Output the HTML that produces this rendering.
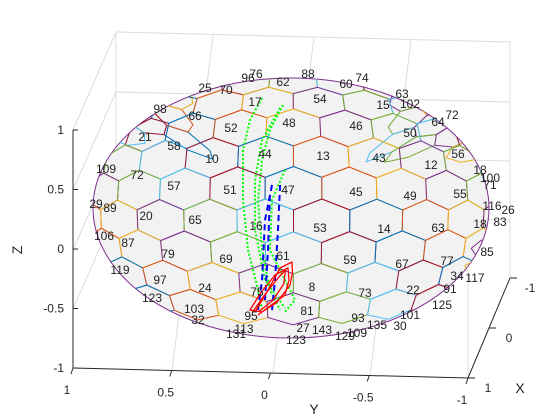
<!DOCTYPE html>
<html><head><meta charset="utf-8"><style>
html,body{margin:0;padding:0;background:#fff;}
svg{display:block;font-family:"Liberation Sans",sans-serif;}
</style></head><body>
<svg id="chart" width="560" height="420" viewBox="0 0 560 420" xmlns="http://www.w3.org/2000/svg">
<defs><clipPath id="sph"><ellipse cx="291" cy="208" rx="198" ry="130"/></clipPath></defs>
<g id="box" stroke="#dcdcdc" stroke-width="1" fill="none">
<polyline points="73,130 116,32 510,42 510,278"/>
<line x1="116" y1="32" x2="116" y2="270"/>
<line x1="468" y1="270" x2="468" y2="378"/>
<line x1="73" y1="190" x2="116" y2="92"/>
<line x1="73" y1="250" x2="116" y2="152"/>
<line x1="73" y1="309" x2="116" y2="211"/>
<line x1="172" y1="371" x2="213" y2="35"/>
<line x1="273" y1="373" x2="314" y2="37"/>
<line x1="370" y1="376" x2="411" y2="40"/>
<line x1="116" y1="92" x2="510" y2="102"/>
<line x1="116" y1="152" x2="510" y2="161"/>
<line x1="116" y1="211" x2="510" y2="220"/>
<line x1="116" y1="270" x2="468" y2="270"/>
</g>
<g id="grid"></g>
<g id="traj"></g>
<g id="labels" font-size="12" fill="#222"></g>
<g id="axes" stroke="#262626" fill="none" stroke-width="1">
<line x1="73" y1="130" x2="73" y2="368"/>
<line x1="73" y1="368" x2="468" y2="378"/>
<line x1="468" y1="378" x2="510" y2="278"/>
</g>
<g id="ticks" font-size="12" fill="#262626"></g>
<text x="22" y="250" font-size="14" fill="#262626" transform="rotate(-90 22 250)" text-anchor="middle">Z</text>
<text x="314" y="414" font-size="14" fill="#262626" text-anchor="middle">Y</text>
<text x="520" y="393" font-size="14" fill="#262626" text-anchor="middle">X</text>
</svg>
<script>
const zTicks=[1,0.5,0,-0.5,-1];
const zTickLabels=["1","0.5","0","-0.5","-1"];
const yTicks=[1,0.5,0,-0.5,-1];
const yTickLabels=["1","0.5","0","-0.5","-1"];
const xTicks=[-1,0,1];
const xTickLabels=["-1","0","1"];
const green1=[[0.034,0.936],[0.103,0.76],[0.143,0.52],[0.143,0.12],[0.114,-0.28],[0.057,-0.6],[0.034,-0.76]];
const green2=[[-0.086,0.88],[-0.011,0.68],[0.034,0.44],[0.057,0.12],[0.034,-0.28],[-0.011,-0.6],[-0.069,-0.76]];
const green3=[[-0.069,0.856],[0.034,0.6],[0.074,0.28],[0.074,-0.12],[0.017,-0.52],[-0.097,-0.744]];
const green4=[[-0.097,0.36],[-0.023,0.12],[-0.011,-0.28],[-0.126,-0.6],[-0.154,-0.68],[-0.097,-0.776]];
const blue1=[[-0.023,0.24],[0.017,-0.04],[0.034,-0.52],[0.057,-0.76]];
const blue2=[[-0.069,0.24],[-0.057,-0.12],[-0.04,-0.52],[-0.023,-0.76]];
const blue3=[[-0.011,0.16],[0,-0.28],[0.017,-0.68]];
const red1=[[0.074,-0.776],[0.0,-0.6],[-0.069,-0.424],[-0.137,-0.376],[-0.14,-0.46],[-0.126,-0.56],[-0.05,-0.7],[0.034,-0.776],[0.103,-0.76],[0.04,-0.62],[-0.04,-0.48],[-0.114,-0.424],[-0.12,-0.52],[-0.097,-0.64],[0.0,-0.74],[0.057,-0.8]];
const red2=[[0.09,-0.78],[0.02,-0.64],[-0.06,-0.5],[-0.1,-0.44],[-0.09,-0.55],[-0.03,-0.68],[0.05,-0.77]];
const cellLabels=[["76",256,74],["96",248,78],["62",283,82],["88",308,74],["60",346,84],["74",362,78],["63",402,94],["102",410,104],["25",205,88],["70",226,90],["17",255,102],["54",320,99],["15",383,105],["98",160,109],["66",195,116],["52",231,128],["48",289,123],["46",356,126],["50",410,133],["64",438,122],["72",452,115],["21",145,137],["58",174,146],["10",212,159],["44",265,154],["13",323,156],["43",379,158],["12",431,165],["56",458,154],["18",480,170],["100",490,178],["109",106,169],["72",137,175],["57",174,186],["51",230,190],["47",288,190],["45",356,192],["49",410,196],["55",460,194],["71",490,185],["29",96,204],["89",110,208],["20",146,216],["65",195,220],["16",256,226],["53",320,228],["14",384,229],["63",438,228],["18",480,224],["116",492,206],["26",508,210],["83",500,222],["106",104,236],["87",128,243],["79",168,254],["69",226,259],["61",283,256],["59",350,260],["67",402,264],["77",447,261],["85",487,252],["119",120,270],["97",160,280],["24",205,288],["75",257,292],["8",312,287],["73",365,293],["22",413,290],["91",450,289],["34",457,276],["117",475,278],["123",152,298],["103",194,309],["95",251,316],["81",307,311],["93",358,318],["101",410,315],["125",442,305],["32",198,320],["135",377,325],["30",400,326],["113",244,329],["131",236,334],["27",303,328],["143",322,330],["109",357,333],["129",345,336],["123",296,340]];
const NS='http://www.w3.org/2000/svg';
function sx(y){return 268-y*175;}
function sz(z){return 215-z*125;}
function mk(tag,attrs,parent){const e=document.createElementNS(NS,tag);for(const k in attrs)e.setAttribute(k,attrs[k]);parent.appendChild(e);return e;}
const grid=document.getElementById('grid');
const sp=mk('ellipse',{cx:291,cy:208,rx:198,ry:130,fill:'#f2f2f2',stroke:'#7E2F8E','stroke-width':1},grid);


const hg=mk('g',{'clip-path':'url(#sph)',fill:'none','stroke-width':1},grid);


const cols=['#0072BD','#D95319','#EDB120','#7E2F8E','#77AC30','#4DBEEE','#A2142F'];
function warp(px,py){const dx=(px-291)/198, dy=(py-208)/130;const f=1-0.12*(dx*dx+dy*dy);return [291+(px-291)*f,208+(py-208)*f];}
let ci=0;
for(let r=-5;r<=5;r++){for(let c=-6;c<=6;c++){
 const cx=322+c*57+(Math.abs(r)%2?-28.5:0), cy=155+r*33;
 const off=[[0,-22],[28.5,-11],[28.5,11],[0,22],[-28.5,11],[-28.5,-11]];
 const pts=off.map(o=>warp(cx+o[0],cy+o[1]));
 const p=mk('polygon',{points:pts.map(q=>q[0].toFixed(1)+','+q[1].toFixed(1)).join(' '),stroke:cols[(ci++)%7]},hg);
 
 
}}
const lg=document.getElementById('labels');
cellLabels.forEach(l=>{const t=mk('text',{x:l[1],y:l[2]+4,'text-anchor':'middle'},lg);t.textContent=l[0];
 
 });
const tg=document.getElementById('traj');
function line(arr,color,dash,w,name){const p=mk('polyline',{points:arr.map(q=>sx(q[0])+','+sz(q[1])).join(' '),fill:'none',stroke:color,'stroke-width':w,'stroke-dasharray':dash,'stroke-linejoin':'round'},tg);
 
 }
[green1,green2,green3,green4].forEach(a=>line(a,'#00ff00','2,2',2,'green-dotted-trajectory'));
[blue1,blue2,blue3].forEach(a=>line(a,'#0000ff','6,4',2,'blue-dashed-trajectory'));
line(red1,'#ff0000','none',1.3,'red-solid-trajectory');
line(red2,'#ff0000','none',1.3,'red-solid-trajectory');
const tk=document.getElementById('ticks');
zTicks.forEach((v,i)=>{const yy=249-v*119;
 const l=mk('line',{x1:73,y1:yy,x2:78,y2:yy,stroke:'#262626'},tk);
 
 
 const t=mk('text',{x:64,y:yy+4,'text-anchor':'end'},tk);t.textContent=zTickLabels[i];
 
 });
yTicks.forEach((v,i)=>{const f=(1-v)/2;const x=73+f*395, y=368+f*10;
 const l=mk('line',{x1:x,y1:y,x2:x-2,y2:y+6,stroke:'#262626'},tk);
 
 
 const t=mk('text',{x:x-6,y:y+26,'text-anchor':'middle'},tk);t.textContent=yTickLabels[i];
 
 });
xTicks.forEach((v,i)=>{const f=(1+v)/2;const x=510-f*42, y=278+f*100;
 const l=mk('line',{x1:x,y1:y,x2:x+7,y2:y,stroke:'#262626'},tk);
 
 
 const t=mk('text',{x:x+20,y:y+14,'text-anchor':'middle'},tk);t.textContent=xTickLabels[i];
 
 });
</script>
</body></html>
